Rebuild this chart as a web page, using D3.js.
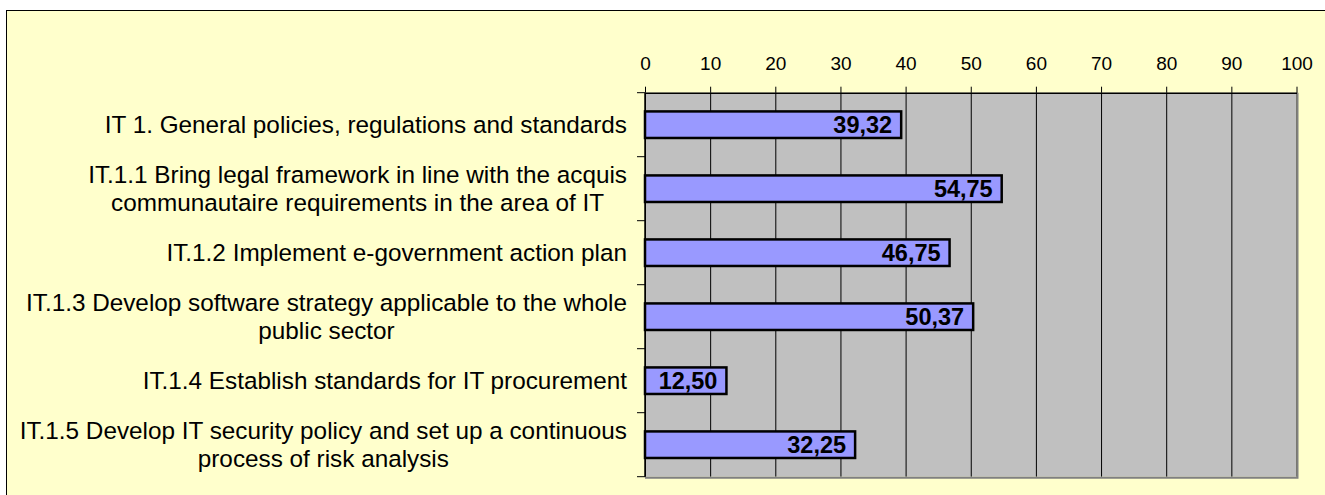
<!DOCTYPE html>
<html>
<head>
<meta charset="utf-8">
<script src="https://cdn.jsdelivr.net/npm/d3@7"></script>
<style>
  body { margin: 0; background: #fff; }
  svg { display: block; font-family: "Liberation Sans", Arial, sans-serif; }
</style>
</head>
<body>
<div id="chart"></div>
<script>
// categories, each split into the lines shown on the chart
var categories = [
        ['IT 1. General policies, regulations and standards'],
        ['IT.1.1 Bring legal framework in line with the acquis', 'communautaire requirements in the area of IT'],
        ['IT.1.2 Implement e-government action plan'],
        ['IT.1.3 Develop software strategy applicable to the whole', 'public sector'],
        ['IT.1.4 Establish standards for IT procurement'],
        ['IT.1.5 Develop IT security policy and set up a continuous', 'process of risk analysis']
];
var values = [39.32, 54.75, 46.75, 50.37, 12.50, 32.25];
var xTicks = [0, 10, 20, 30, 40, 50, 60, 70, 80, 90, 100];

var width = 1325, height = 495;
var margin = { top: 92.7, right: 28.5, bottom: 18.3, left: 645 };

var svg = d3.select('#chart').append('svg')
        .attr('width', width)
        .attr('height', height);

// outer chart area (border runs off the right and bottom edges)
svg.append('rect')
        .attr('x', 6.5).attr('y', 10.5)
        .attr('width', width + 20).attr('height', height + 20)
        .attr('fill', '#FFFFCC')
        .attr('stroke', '#000')
        .attr('stroke-width', 1);

var w = width - margin.left - margin.right;
var h = height - margin.top - margin.bottom;
var g = svg.append('g').attr('transform', 'translate(' + margin.left + ',' + margin.top + ')');

var x = d3.scaleLinear().domain([0, 100]).range([0, w]);
var y = d3.scaleBand()
        .domain(d3.range(categories.length))
        .range([0, h])
        .paddingInner(0.585)
        .paddingOuter(0.2925);

// plot background
g.append('rect')
        .attr('width', w).attr('height', h)
        .attr('fill', '#C0C0C0');

// vertical gridlines
g.append('g')
        .attr('class', 'grid')
        .call(d3.axisBottom(x).tickValues(xTicks).tickSize(h).tickFormat(''))
        .call(function (s) { s.select('.domain').remove(); })
        .selectAll('line').attr('stroke', '#000').attr('stroke-width', 1);

// gray plot border right/bottom
g.append('path')
        .attr('d', 'M' + (w + 1) + ',0V' + (h + 1) + 'H0')
        .attr('fill', 'none')
        .attr('stroke', '#808080')
        .attr('stroke-width', 2);

// bars
g.selectAll('.bar')
        .data(values)
        .enter().append('rect')
        .attr('class', 'bar')
        .attr('x', x(0))
        .attr('y', function (d, i) { return y(i); })
        .attr('width', function (d) { return x(d) - x(0); })
        .attr('height', y.bandwidth())
        .attr('fill', '#9999FF')
        .attr('stroke', '#000')
        .attr('stroke-width', 2.5);

// value labels
g.selectAll('.val')
        .data(values)
        .enter().append('text')
        .attr('class', 'val')
        .attr('x', function (d) { return x(d) - 9; })
        .attr('y', function (d, i) { return y(i) + y.bandwidth() / 2; })
        .attr('dy', '0.36em')
        .attr('text-anchor', 'end')
        .attr('font-size', 23.5)
        .attr('font-weight', 'bold')
        .attr('fill', '#000')
        .text(function (d) { return d3.format('.2f')(d).replace('.', ','); });

// top axis
var xAxis = g.append('g')
        .call(d3.axisTop(x).tickValues(xTicks).tickSize(6).tickPadding(17).tickSizeOuter(0));
xAxis.select('.domain').attr('stroke', '#000').attr('stroke-width', 1.5);
xAxis.selectAll('text').attr('font-size', 19).attr('fill', '#000')
        .attr('font-family', '"Liberation Sans", Arial, sans-serif');

// left axis line and boundary ticks
var bounds = d3.range(categories.length + 1).map(function (i) {
        return i * y.step();
});
g.append('line')
        .attr('x1', 0).attr('x2', 0).attr('y1', 0).attr('y2', h)
        .attr('stroke', '#000').attr('stroke-width', 1.5);
g.selectAll('.ytick')
        .data(bounds)
        .enter().append('line')
        .attr('class', 'ytick')
        .attr('x1', -8).attr('x2', 0)
        .attr('y1', function (d) { return d; }).attr('y2', function (d) { return d; })
        .attr('stroke', '#000').attr('stroke-width', 1);

// category labels: lines centered within a right-aligned block
var lineH = 28;
var labels = g.selectAll('.cat')
        .data(categories)
        .enter().append('g')
        .attr('class', 'cat');
labels.each(function (lines, i) {
        var grp = d3.select(this);
        var texts = grp.selectAll('text')
                .data(lines)
                .enter().append('text')
                .attr('font-size', 24.3)
                .attr('fill', '#000')
                .attr('text-anchor', 'middle')
                .attr('y', function (d, j) {
                        return y(i) + y.bandwidth() / 2 + (j - (lines.length - 1) / 2) * lineH;
                })
                .attr('dy', '0.36em')
                .text(function (d) { return d; });
        var maxW = d3.max(texts.nodes(), function (n) { return n.getComputedTextLength(); });
        texts.attr('x', -18 - maxW / 2);
});
</script>
</body>
</html>
